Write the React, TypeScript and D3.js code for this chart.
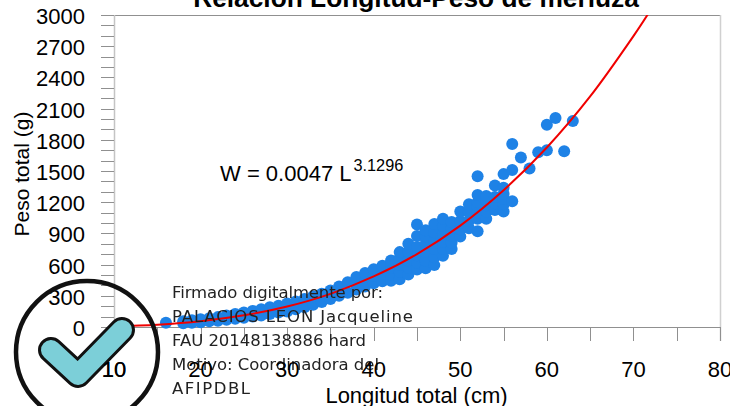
import React from "react";
import * as d3 from "d3";

const title = "Relación Longitud-Peso de merluza";
const xLabel = "Longitud total (cm)";
const yLabel = "Peso total (g)";
const xTicks = [10, 20, 30, 40, 50, 60, 70, 80];
const xMinor = [15, 25, 35, 45, 55, 65, 75];
const yTicks = [0, 300, 600, 900, 1200, 1500, 1800, 2100, 2400, 2700, 3000];
const yMinor = [100, 200, 400, 500, 700, 800, 1000, 1100, 1300, 1400, 1600, 1700, 1900, 2000, 2200, 2300, 2500, 2600, 2800, 2900];
const stampLines = [
  "Firmado digitalmente por:",
  "PALACIOS LEON Jacqueline",
  "FAU 20148138886 hard",
  "Motivo: Coordinadora del",
  "AFIPDBL",
  "Fecha: 17/04/2024 16:40:54-0500",
];
const stampWidths = [211, 241, 194, 207, 78, 278];

const fitLengths = [10, 15, 20, 25, 30, 35, 40, 45, 50, 55, 60, 65, 70, 72];
const fitWeights = [6, 22, 55, 112, 197, 319, 486, 701, 975, 1315, 1726, 2217, 2797, 3050];

// [length, weights observed at that length]
const samples: [number, number[]][] = [
  [16, [40]],
  [18, [35, 55]],
  [19, [40, 65]],
  [20, [45, 75]],
  [21, [55, 85]],
  [22, [60, 95]],
  [23, [70, 110]],
  [24, [80, 125]],
  [25, [90, 140]],
  [26, [100, 155]],
  [27, [110, 170]],
  [28, [125, 190]],
  [29, [140, 205]],
  [30, [150, 225]],
  [31, [170, 245]],
  [32, [190, 270]],
  [33, [215, 295]],
  [34, [240, 320]],
  [35, [270, 350]],
  [36, [300, 390]],
  [37, [330, 430]],
  [38, [360, 420, 480]],
  [39, [390, 450, 520]],
  [40, [420, 490, 555]],
  [41, [440, 510, 590]],
  [42, [445, 505, 570, 640]],
  [43, [460, 530, 600, 660, 720]],
  [44, [505, 570, 640, 720, 800]],
  [45, [553, 620, 690, 770, 875, 985]],
  [46, [565, 640, 720, 800, 870, 930]],
  [47, [595, 670, 750, 830, 910, 990]],
  [48, [685, 750, 820, 900, 970, 1040]],
  [49, [750, 810, 880, 950, 1010]],
  [50, [870, 940, 1020, 1110]],
  [51, [950, 1020, 1100, 1180]],
  [52, [920, 1040, 1100, 1155, 1200, 1270, 1450]],
  [53, [1040, 1110, 1170, 1220, 1260]],
  [54, [1125, 1190, 1250, 1360]],
  [55, [1110, 1180, 1230, 1280, 1340, 1470]],
  [56, [1210, 1510, 1760]],
  [57, [1630]],
  [58, [1525]],
  [59, [1680]],
  [60, [1700, 1945]],
  [61, [2010]],
  [62, [1690]],
  [63, [1980]],
];

const W = 730;
const H = 406;
const x = d3.scaleLinear().domain([10, 80]).range([114, 720]);
const y = d3.scaleLinear().domain([0, 3000]).range([327, 15]);
const fitLine = d3
  .line<number>()
  .x((d) => x(d))
  .y((_, i) => y(fitWeights[i]))
  .curve(d3.curveCatmullRom);

const sans = "'Liberation Sans', Arial, sans-serif";

export default function App() {
  return (
    <svg
      width={W}
      height={H}
      viewBox={`0 0 ${W} ${H}`}
      style={{ position: "fixed", left: 0, top: 0, background: "#fff", display: "block" }}
    >
      <defs>
        <clipPath id="plot">
          <rect x={114} y={15} width={606} height={320} />
        </clipPath>
        <filter id="soft" x="-5%" y="-5%" width="110%" height="110%">
          <feGaussianBlur stdDeviation={0.35} />
        </filter>
      </defs>

      <text x={416} y={7} textAnchor="middle" fontFamily={sans} fontWeight="bold" fontSize={26.3} fill="#000">
        {title}
      </text>

      <line x1={101} x2={720} y1={15.5} y2={15.5} stroke="#909090" />
      <line x1={114.5} x2={114.5} y1={15} y2={327} stroke="#c4c4c4" strokeWidth={1.5} />
      <line x1={720.5} x2={720.5} y1={15} y2={341} stroke="#d0d0d0" strokeWidth={1.5} />
      <line x1={101} x2={720} y1={327.5} y2={327.5} stroke="#909090" />

      {[...yTicks, ...yMinor].map((t) => (
        <line key={t} x1={101} x2={114} y1={Math.round(y(t)) + 0.5} y2={Math.round(y(t)) + 0.5} stroke="#909090" />
      ))}
      {[...xTicks, ...xMinor].map((t) => (
        <line key={t} x1={Math.round(x(t)) + 0.5} x2={Math.round(x(t)) + 0.5} y1={327} y2={341} stroke="#909090" />
      ))}

      <g clipPath="url(#plot)">
        {samples.flatMap(([len, ws]) =>
          ws.map((w) => <circle key={`${len}-${w}`} cx={x(len)} cy={y(w)} r={6} fill="#1e82e6" />)
        )}
        <path d={fitLine(fitLengths) ?? ""} fill="none" stroke="#f00000" strokeWidth={2} />
      </g>

      <g fontFamily="'DejaVu Sans', sans-serif" fontSize={16.5} fill="#222" filter="url(#soft)">
        {stampLines.map((s, i) => (
          <text key={s} x={172} y={298 + i * 24} textLength={stampWidths[i]} lengthAdjust="spacing">
            {s}
          </text>
        ))}
      </g>

      {yTicks.map((t) => (
        <text key={t} x={85} y={y(t) + 9} textAnchor="end" fontFamily={sans} fontSize={22} fill="#000">
          {t}
        </text>
      ))}
      {xTicks.map((t) => (
        <text key={t} x={x(t)} y={377} textAnchor="middle" fontFamily={sans} fontSize={22} fill="#000">
          {t}
        </text>
      ))}

      <text x={416.5} y={403} textAnchor="middle" fontFamily={sans} fontSize={22} fill="#000">
        {xLabel}
      </text>
      <text
        transform="translate(29,174) rotate(-90)"
        textAnchor="middle"
        fontFamily={sans}
        fontSize={21}
        fill="#000"
      >
        {yLabel}
      </text>

      <text x={220} y={181} fontFamily={sans} fontSize={22} fill="#000">
        W = 0.0047 L
        <tspan dx={2} dy={-10} fontSize={16.3}>3.1296</tspan>
      </text>

      <circle cx={87} cy={352} r={71} fill="none" stroke="#111" strokeWidth={4.5} />
      <path
        d="M51,350 L78,375 L122,330"
        fill="none"
        stroke="#111"
        strokeWidth={26}
        strokeLinecap="round"
        strokeLinejoin="round"
      />
      <path
        d="M51,350 L78,375 L122,330"
        fill="none"
        stroke="#7ccfd8"
        strokeWidth={20}
        strokeLinecap="round"
        strokeLinejoin="round"
      />
      <text x={x(10)} y={377} textAnchor="middle" fontFamily={sans} fontSize={22} fill="#000">
        {xTicks[0]}
      </text>
    </svg>
  );
}
